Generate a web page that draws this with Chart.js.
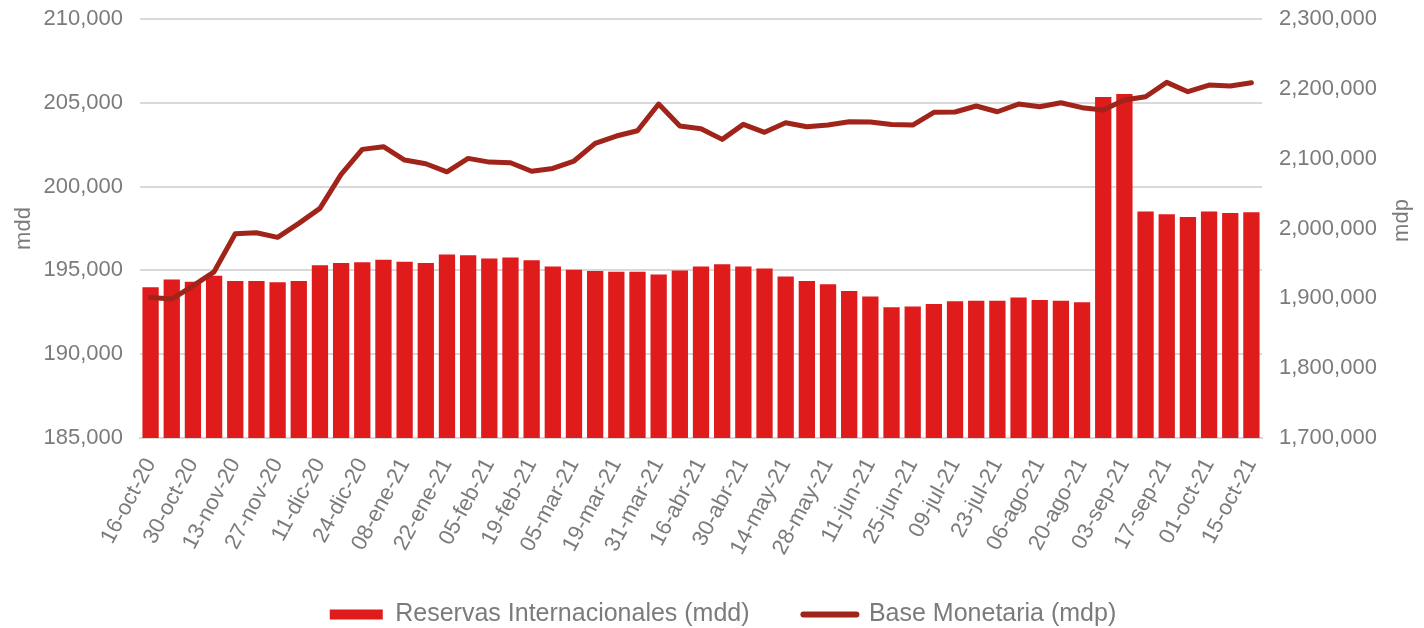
<!DOCTYPE html>
<html>
<head>
<meta charset="utf-8">
<script src="https://cdn.jsdelivr.net/npm/chart.js@4.4.0/dist/chart.umd.min.js"></script>
<style>
  body { margin: 0; background: #fff; }
</style>
</head>
<body>
<canvas id="chart" width="1424" height="628"></canvas>
<script>
const fechas = [
  '16-oct-20', '23-oct-20', '30-oct-20', '06-nov-20', '13-nov-20', '20-nov-20', '27-nov-20',
  '04-dic-20', '11-dic-20', '18-dic-20', '24-dic-20', '31-dic-20', '08-ene-21', '15-ene-21',
  '22-ene-21', '29-ene-21', '05-feb-21', '12-feb-21', '19-feb-21', '26-feb-21', '05-mar-21',
  '12-mar-21', '19-mar-21', '26-mar-21', '31-mar-21', '09-abr-21', '16-abr-21', '23-abr-21',
  '30-abr-21', '07-may-21', '14-may-21', '21-may-21', '28-may-21', '04-jun-21', '11-jun-21',
  '18-jun-21', '25-jun-21', '02-jul-21', '09-jul-21', '16-jul-21', '23-jul-21', '30-jul-21',
  '06-ago-21', '13-ago-21', '20-ago-21', '27-ago-21', '03-sep-21', '10-sep-21', '17-sep-21',
  '24-sep-21', '01-oct-21', '08-oct-21', '15-oct-21'
];

// Reservas internacionales, millones de dolares
const reservas = [
  194000, 194450, 194330, 194680, 194370, 194370, 194290, 194370, 195300, 195440,
  195480, 195640, 195520, 195440, 195950, 195910, 195710, 195770, 195600, 195240,
  195040, 194960, 194920, 194920, 194760, 195000, 195240, 195360, 195240, 195120,
  194640, 194370, 194170, 193770, 193450, 192800, 192840, 193000, 193160, 193190,
  193190, 193390, 193230, 193190, 193100, 205340, 205520, 198510, 198350, 198190,
  198510, 198430, 198470
];

// Base monetaria, millones de pesos
const baseMonetaria = [
  1901300, 1898900, 1917900, 1938000, 1992500, 1993900, 1987300, 2007300, 2028800, 2077500,
  2113300, 2117100, 2098000, 2092700, 2081200, 2100400, 2095100, 2094100, 2082000, 2086000,
  2096600, 2121900, 2132400, 2140000, 2178200, 2146700, 2142900, 2127600, 2149100, 2137700,
  2151400, 2145700, 2148100, 2152900, 2152400, 2149000, 2148100, 2166300, 2166800, 2175400,
  2167200, 2178200, 2174400, 2180100, 2173000, 2169600, 2184000, 2188700, 2209300, 2195900,
  2205400, 2204000, 2208700
];

const gris = '#7b7b7b';
const rojo = '#e01b1c';
const guinda = '#a0241a';
const fuente = 'Liberation Sans, Arial, sans-serif';
const fmt = v => v.toLocaleString('en-US');

// the right axis title reads bottom-to-top, like the left one
const tituloDerecho = {
  id: 'tituloDerecho',
  afterDraw(chart) {
    const c = chart.ctx;
    const area = chart.chartArea;
    c.save();
    c.translate(1402, (area.top + area.bottom) / 2 - 8);
    c.rotate(-Math.PI / 2);
    c.fillStyle = gris;
    c.font = '22px ' + fuente;
    c.textAlign = 'center';
    c.textBaseline = 'middle';
    c.fillText('mdp', 0, 0);
    c.restore();
  }
};

const ctx = document.getElementById('chart').getContext('2d');

new Chart(ctx, {
  data: {
    labels: fechas,
    datasets: [
      {
        type: 'bar',
        label: 'Reservas Internacionales (mdd)',
        data: reservas,
        backgroundColor: rojo,
        yAxisID: 'y',
        order: 2,
        categoryPercentage: 1,
        barPercentage: 0.77
      },
      {
        type: 'line',
        label: 'Base Monetaria (mdp)',
        data: baseMonetaria,
        borderColor: guinda,
        backgroundColor: guinda,
        borderWidth: 5,
        pointRadius: 0,
        tension: 0,
        borderJoinStyle: 'round',
        borderCapStyle: 'round',
        yAxisID: 'y1',
        order: 1
      }
    ]
  },
  options: {
    responsive: false,
    animation: false,
    layout: { padding: { top: 19, left: 22, right: 0, bottom: 0 } },
    plugins: {
      tooltip: { enabled: false },
      legend: {
        position: 'bottom',
        maxHeight: 59,
        labels: {
          color: gris,
          font: { family: fuente, size: 25 },
          usePointStyle: true,
          pointStyleWidth: 53,
          boxWidth: 53,
          boxHeight: 10,
          padding: 33,
          sort: (a, b) => a.datasetIndex - b.datasetIndex,
          generateLabels: chart => {
            const items = Chart.defaults.plugins.legend.labels.generateLabels(chart);
            items.forEach(it => {
              if (it.datasetIndex === 0) {
                it.pointStyle = 'rect';
                it.lineWidth = 0;
                it.fillStyle = rojo;
                it.strokeStyle = rojo;
                it.text += '   ';
              } else {
                it.pointStyle = 'line';
                it.lineWidth = 6;
                it.strokeStyle = guinda;
                it.lineCap = 'round';
              }
            });
            return items;
          }
        }
      }
    },
    scales: {
      x: {
        grid: { display: false },
        border: { display: true, color: '#d9d9d9', width: 2 },
        ticks: {
          autoSkip: false,
          minRotation: 62,
          maxRotation: 62,
          padding: 8,
          color: gris,
          font: { family: fuente, size: 22 },
          callback: function (value, index) {
            return index % 2 === 0 ? this.getLabelForValue(value) : '';
          }
        },
        afterFit: scale => { scale.height = 131; }
      },
      y: {
        position: 'left',
        min: 185000,
        max: 210000,
        grid: { color: '#d9d9d9', lineWidth: 2, drawTicks: true, tickLength: 14, tickColor: 'rgba(0,0,0,0)' },
        border: { display: false },
        ticks: {
          stepSize: 5000,
          padding: 3,
          color: gris,
          font: { family: fuente, size: 22 },
          callback: v => fmt(v)
        },
        title: {
          display: true,
          text: 'mdd',
          color: gris,
          font: { family: fuente, size: 22 },
          padding: { top: -11, bottom: 0 }
        },
        afterFit: scale => { scale.width = 118; }
      },
      y1: {
        position: 'right',
        min: 1700000,
        max: 2300000,
        grid: { drawOnChartArea: false, drawTicks: true, tickLength: 14, tickColor: 'rgba(0,0,0,0)' },
        border: { display: false },
        ticks: {
          stepSize: 100000,
          padding: 3,
          color: gris,
          font: { family: fuente, size: 22 },
          callback: v => fmt(v)
        },
        afterFit: scale => { scale.width = 162; }
      }
    }
  },
  plugins: [tituloDerecho]
});
</script>
</body>
</html>
